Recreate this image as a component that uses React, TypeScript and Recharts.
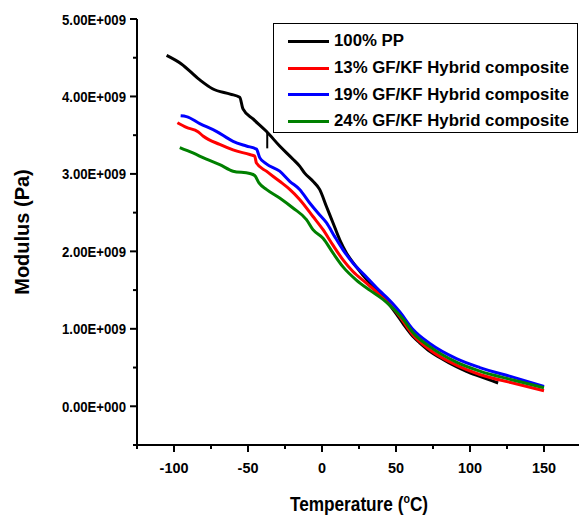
import { LineChart, Line, XAxis, YAxis, Legend, ReferenceLine } from "recharts";

// temperatures (°C) and storage modulus (x1e9 Pa)
const ppTemp = [-105, -95, -83, -74, -62, -55.6, -53.4, -46.6, -37.6, -28.6, -19.6, -15.1, -11.7, -6.1, -1.6, 3, 7.4, 12, 16.5, 23.2, 32.2, 41.2, 46, 50.3, 55, 61.5, 66, 72.8, 79.5, 90.8, 97.6, 106.6, 119];
const ppModulus = [4.53, 4.42, 4.22, 4.1, 4.03, 3.99, 3.84, 3.71, 3.55, 3.36, 3.19, 3.1, 3.01, 2.905, 2.8, 2.58, 2.37, 2.15, 1.98, 1.8, 1.59, 1.41, 1.3, 1.19, 1.06, 0.9, 0.82, 0.71, 0.63, 0.51, 0.45, 0.385, 0.3];

const gf13Temp = [-97.7, -91.6, -83.8, -80.4, -69.1, -60.1, -48.8, -45.5, -44.3, -37.6, -28.6, -21.8, -15.1, -6.1, 0.7, 7.4, 14.2, 20.9, 30, 39, 44, 48, 52.5, 61.5, 72.8, 90.8, 106.6, 129, 150];
const gf13Modulus = [3.66, 3.6, 3.545, 3.49, 3.38, 3.31, 3.25, 3.23, 3.14, 3.035, 2.905, 2.8, 2.67, 2.45, 2.28, 2.08, 1.89, 1.74, 1.59, 1.44, 1.35, 1.27, 1.16, 0.92, 0.73, 0.53, 0.41, 0.3, 0.2];

const gf19Temp = [-95.5, -91.6, -82.6, -71.4, -60.1, -51.1, -44.3, -42.1, -37.6, -28.6, -21.8, -15.1, -8.3, -2.7, 3, 8.6, 14.2, 20.9, 30, 39, 44, 48, 52.5, 61.5, 72.8, 90.8, 106.6, 129, 150];
const gf19Modulus = [3.75, 3.74, 3.65, 3.55, 3.42, 3.36, 3.32, 3.21, 3.13, 3.035, 2.905, 2.8, 2.625, 2.495, 2.37, 2.19, 2.02, 1.85, 1.67, 1.49, 1.4, 1.32, 1.22, 0.99, 0.81, 0.615, 0.5, 0.376, 0.255];

const gf24Temp = [-96.1, -87.2, -78.1, -69.1, -60.1, -48.8, -45.5, -42.6, -37.6, -28.6, -19.6, -10.5, -6.1, 0.7, 7.4, 14.2, 23.2, 32.2, 41.2, 46, 50.3, 55, 61.5, 72.8, 90.8, 106.6, 129, 150];
const gf24Modulus = [3.34, 3.27, 3.19, 3.12, 3.035, 3.005, 2.98, 2.885, 2.8, 2.69, 2.56, 2.41, 2.28, 2.17, 1.98, 1.8, 1.63, 1.5, 1.38, 1.3, 1.22, 1.12, 0.95, 0.77, 0.57, 0.454, 0.34, 0.24];

const seriesNames = ["100% PP", "13% GF/KF Hybrid composite", "19% GF/KF Hybrid composite", "24% GF/KF Hybrid composite"];
const seriesColors = ["#000000", "#ff0000", "#0000ff", "#008000"];

const xTicks = [-125, -100, -75, -50, -25, 0, 25, 50, 75, 100, 125, 150, 175];
const yTicks = [-5e8, 0, 5e8, 1e9, 1.5e9, 2e9, 2.5e9, 3e9, 3.5e9, 4e9, 4.5e9, 5e9];

// little stray mark under the legend corner in the original
const strayTemp = -37;
const strayModulus = [3.33e9, 3.54e9];

const SANS = "'Liberation Sans', Arial, sans-serif";

const toPoints = (t: number[], m: number[]) => t.map((x, i) => ({ t: x, m: m[i] * 1e9 }));

const SERIES = [
  toPoints(ppTemp, ppModulus),
  toPoints(gf13Temp, gf13Modulus),
  toPoints(gf19Temp, gf19Modulus),
  toPoints(gf24Temp, gf24Modulus),
].map((data, i) => ({ name: seriesNames[i], color: seriesColors[i], data }));

const sci = (v: number) => {
  const [mant, exp] = v.toExponential(2).split("e");
  const n = parseInt(exp, 10);
  return `${mant}E${n < 0 ? "-" : "+"}${String(Math.abs(n)).padStart(3, "0")}`;
};

// the original's text is squeezed horizontally, so scale x a bit
const XTick = ({ x, y, payload }: any) => {
  const major = payload.value % 50 === 0;
  return (
    <g>
      <line x1={x} x2={x} y1={y} y2={y + (major ? 7 : 4)} stroke="#000" strokeWidth={2} />
      {major && (
        <text
          transform={`translate(${x},${y + 28}) scale(0.93,1)`}
          textAnchor="middle"
          fontFamily={SANS}
          fontWeight="bold"
          fontSize={15.5}
          fill="#000"
        >
          {payload.value}
        </text>
      )}
    </g>
  );
};

const YTick = ({ x, y, payload }: any) => {
  const major = payload.value % 1e9 === 0;
  return (
    <g>
      <line x1={x - (major ? 7 : 4)} x2={x} y1={y} y2={y} stroke="#000" strokeWidth={2} />
      {major && (
        <text
          transform={`translate(${x - 11},${y + 5.5}) scale(0.85,1)`}
          textAnchor="end"
          fontFamily={SANS}
          fontWeight="bold"
          fontSize={15.5}
          fill="#000"
        >
          {sci(payload.value)}
        </text>
      )}
    </g>
  );
};

const XTitle = ({ viewBox }: any) => (
  <text
    transform={`translate(${viewBox.x + viewBox.width / 2},${viewBox.y + 66}) scale(0.82,1)`}
    textAnchor="middle"
    fontFamily={SANS}
    fontWeight="bold"
    fontSize={21}
    fill="#000"
  >
    Temperature (
    <tspan dy={-8} fontSize={13}>o</tspan>
    <tspan dy={8}>C)</tspan>
  </text>
);

const YTitle = ({ viewBox }: any) => (
  <text
    transform={`translate(${viewBox.x + 29},${viewBox.y + viewBox.height / 2}) rotate(-90)`}
    textAnchor="middle"
    fontFamily={SANS}
    fontWeight="bold"
    fontSize={20}
    fill="#000"
  >
    Modulus (Pa)
  </text>
);

const renderLegend = () => (
  <div
    style={{
      border: "1.5px solid #000",
      boxSizing: "border-box",
      width: 305,
      height: 110,
      padding: "4px 0 0 14px",
      background: "#fff",
      fontFamily: SANS,
      fontWeight: "bold",
      fontSize: 16.8,
      color: "#000",
    }}
  >
    {SERIES.map((s) => (
      <div key={s.name} style={{ display: "flex", alignItems: "center", height: 26.7, whiteSpace: "nowrap" }}>
        <span style={{ display: "inline-block", width: 41, height: 3, background: s.color, marginRight: 5 }} />
        <span>{s.name}</span>
      </div>
    ))}
  </div>
);

export default function App() {
  return (
    <div style={{ position: "absolute", left: 0, top: 0, width: 579, height: 517, overflow: "hidden", background: "#fff" }}>
      <LineChart width={590} height={517} margin={{ top: 19, right: 9, bottom: 0, left: 0 }}>
        <XAxis
          type="number"
          dataKey="t"
          domain={[-125, 175]}
          ticks={xTicks}
          interval={0}
          allowDataOverflow
          height={72}
          tickSize={0}
          tickMargin={0}
          tickLine={false}
          tick={<XTick />}
          axisLine={{ stroke: "#000", strokeWidth: 2 }}
          label={{ content: <XTitle /> }}
        />
        <YAxis
          type="number"
          dataKey="m"
          domain={[-5e8, 5e9]}
          ticks={yTicks}
          interval={0}
          allowDataOverflow
          width={137}
          tickSize={0}
          tickMargin={0}
          tickLine={false}
          tick={<YTick />}
          axisLine={{ stroke: "#000", strokeWidth: 2 }}
          label={{ content: <YTitle /> }}
        />
        {SERIES.map((s) => (
          <Line
            key={s.name}
            data={s.data}
            dataKey="m"
            name={s.name}
            type="monotone"
            stroke={s.color}
            strokeWidth={3}
            dot={false}
            isAnimationActive={false}
          />
        ))}
        <ReferenceLine
          segment={[
            { x: strayTemp, y: strayModulus[0] },
            { x: strayTemp, y: strayModulus[1] },
          ]}
          stroke="#000"
          strokeWidth={2}
        />
        <Legend
          layout="vertical"
          align="center"
          verticalAlign="middle"
          content={renderLegend}
          wrapperStyle={{ left: 273, top: 23, width: 305, height: 110 }}
        />
      </LineChart>
    </div>
  );
}
